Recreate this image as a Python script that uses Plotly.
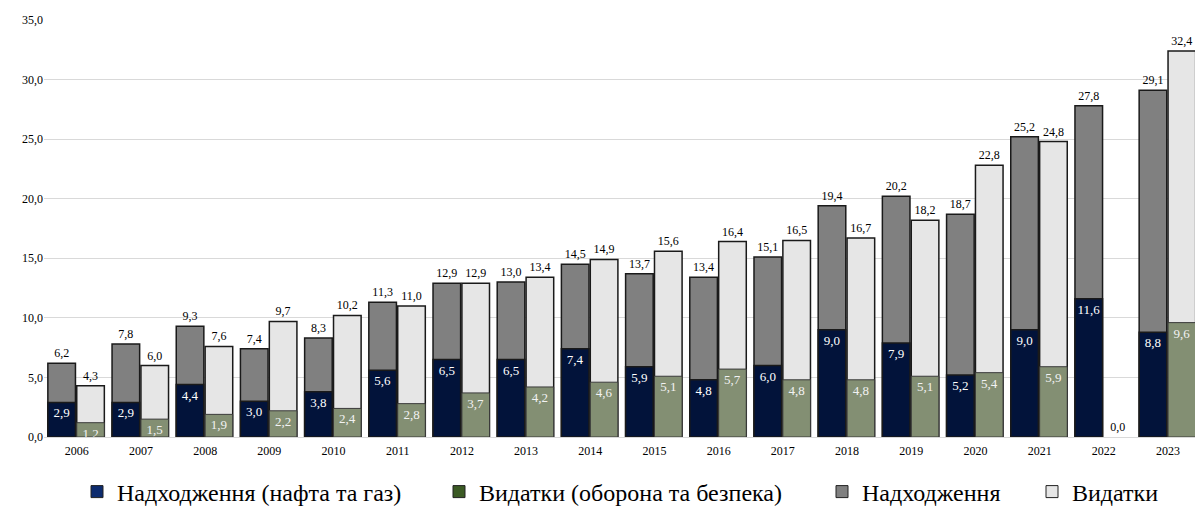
import plotly.graph_objects as go

years = [str(y) for y in range(2006, 2024)]
revenue_total = [6.2, 7.8, 9.3, 7.4, 8.3, 11.3, 12.9, 13.0, 14.5, 13.7, 13.4, 15.1, 19.4, 20.2, 18.7, 25.2, 27.8, 29.1]
expend_total = [4.3, 6.0, 7.6, 9.7, 10.2, 11.0, 12.9, 13.4, 14.9, 15.6, 16.4, 16.5, 16.7, 18.2, 22.8, 24.8, 0.0, 32.4]
revenue_oilgas = [2.9, 2.9, 4.4, 3.0, 3.8, 5.6, 6.5, 6.5, 7.4, 5.9, 4.8, 6.0, 9.0, 7.9, 5.2, 9.0, 11.6, 8.8]
expend_defense = [1.2, 1.5, 1.9, 2.2, 2.4, 2.8, 3.7, 4.2, 4.6, 5.1, 5.7, 4.8, 4.8, 5.1, 5.4, 5.9, None, 9.6]

names = ["Надходження (нафта та газ)", "Видатки (оборона та безпека)", "Надходження", "Видатки"]
legend_colors = ["#0d2b6e", "#3b5a24", "#808080", "#e6e6e6"]
legend_x_px = [91, 453, 836, 1046]

FONT = "Liberation Serif"
W = 0.43
OFF_L = -0.45
OFF_R = 0.0
FIG_W, FIG_H = 1195, 506

def outline(vals, w):
    return [w if (v or 0) > 0 else 0 for v in vals]

fig = go.Figure()

fig.add_trace(go.Bar(
    x=years, y=revenue_total, width=W, offset=OFF_L,
    marker=dict(color="#808080", line=dict(color="#1a1a1a", width=outline(revenue_total, 1.5))),
    text=revenue_total, texttemplate="%{y:.1f}", textposition="outside",
    textfont=dict(family=FONT, size=12, color="#000000"),
    cliponaxis=False, showlegend=False, hoverinfo="skip"))
fig.add_trace(go.Bar(
    x=years, y=expend_total, width=W, offset=OFF_R,
    marker=dict(color="#e6e6e6", line=dict(color="#1a1a1a", width=outline(expend_total, 1.5))),
    text=expend_total, texttemplate="%{y:.1f}", textposition="outside",
    textfont=dict(family=FONT, size=12, color="#000000"),
    cliponaxis=False, showlegend=False, hoverinfo="skip"))
fig.add_trace(go.Bar(
    x=years, y=revenue_oilgas, width=W, offset=OFF_L,
    marker=dict(color="#02133a", line=dict(color="#1a1a1a", width=1.5)),
    text=revenue_oilgas, texttemplate="%{y:.1f}", textposition="inside",
    insidetextanchor="end", textangle=0, constraintext="none",
    textfont=dict(family=FONT, size=13, color="#ffffff"),
    showlegend=False, hoverinfo="skip"))
fig.add_trace(go.Bar(
    x=years, y=expend_defense, width=W, offset=OFF_R,
    marker=dict(color="#838f73", line=dict(color="#3a3a3a", width=1)),
    text=expend_defense, texttemplate="%{y:.1f}", textposition="inside",
    insidetextanchor="end", textangle=0, constraintext="none",
    textfont=dict(family=FONT, size=13, color="#f2f2f2"),
    showlegend=False, hoverinfo="skip"))

legend_ids = ["legend", "legend2", "legend3", "legend4"]
for n, c, lid in zip(names, legend_colors, legend_ids):
    fig.add_trace(go.Bar(
        x=[None], y=[None], name=n, legend=lid,
        marker=dict(color=c, line=dict(color="#222222", width=1)),
        showlegend=True, hoverinfo="skip"))

legend_common = dict(orientation="h", xref="container", yref="container",
                     xanchor="left", yanchor="middle", y=1 - 492 / FIG_H,
                     font=dict(family=FONT, size=24, color="#000000"),
                     itemwidth=30, bgcolor="rgba(0,0,0,0)", borderwidth=0)
legends = {}
for lid, px in zip(legend_ids, legend_x_px):
    legends[lid] = dict(legend_common, x=(px - 14) / FIG_W)

fig.update_layout(
    width=FIG_W, height=FIG_H,
    barmode="overlay",
    separators=", ",
    plot_bgcolor="#ffffff", paper_bgcolor="#ffffff",
    margin=dict(l=44, r=0, t=20, b=69, autoexpand=False),
    font=dict(family=FONT, color="#000000"),
    xaxis=dict(type="category", range=[-0.51, 17.42], showgrid=False, automargin=False,
               showline=True, linecolor="#d9d9d9", linewidth=1,
               tickfont=dict(family=FONT, size=12, color="#000000"),
               ticks="outside", ticklen=3, tickcolor="rgba(0,0,0,0)"),
    yaxis=dict(range=[0, 35], dtick=5, tickformat=".1f", showgrid=True, automargin=False,
               gridcolor="#d9d9d9", gridwidth=1, zeroline=False,
               tickfont=dict(family=FONT, size=12, color="#000000"), ticks=""),
    **legends,
)

fig.write_html("out.html", config={"displayModeBar": False},
               post_script="document.body.style.margin='0px';document.body.style.overflow='hidden';")
